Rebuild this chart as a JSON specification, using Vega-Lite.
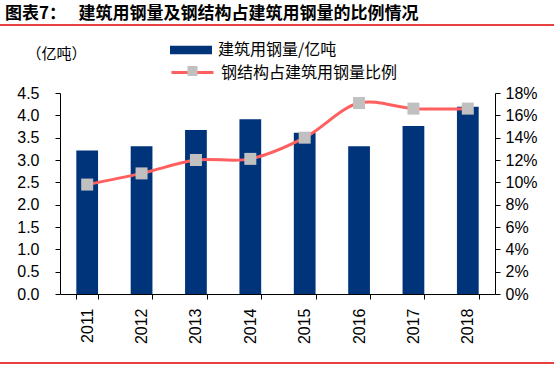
{
  "$schema": "https://vega.github.io/schema/vega-lite/v6.json",
  "width": 554,
  "height": 367,
  "padding": 0,
  "autosize": {"type": "none"},
  "background": "white",
  "config": {"view": {"stroke": null}, "font": "Liberation Sans"},
  "title": {
    "text": "图表7：\u3000\u00a0建筑用钢量及钢结构占建筑用钢量的比例情况",
    "anchor": "start",
    "frame": "group",
    "orient": "top",
    "offset": -23,
    "dx": 5,
    "font": "Noto Sans CJK SC",
    "fontSize": 17,
    "fontWeight": "bold",
    "color": "#000000"
  },
  "data": {
    "values": [
      {"year": "2011", "steel": 3.21, "ratio": 0.098},
      {"year": "2012", "steel": 3.31, "ratio": 0.108},
      {"year": "2013", "steel": 3.67, "ratio": 0.120},
      {"year": "2014", "steel": 3.91, "ratio": 0.121},
      {"year": "2015", "steel": 3.61, "ratio": 0.140},
      {"year": "2016", "steel": 3.31, "ratio": 0.171},
      {"year": "2017", "steel": 3.76, "ratio": 0.166},
      {"year": "2018", "steel": 4.19, "ratio": 0.166}
    ]
  },
  "layer": [
    {
      "mark": {"type": "bar", "color": "#00347A"},
      "encoding": {
        "x": {
          "field": "year",
          "type": "ordinal",
          "scale": {"range": [60, 495], "paddingInner": 0.6, "paddingOuter": 0.3},
          "axis": {
            "title": null,
            "orient": "bottom",
            "offset": -73,
            "labelAngle": -90,
            "labelFont": "Liberation Sans",
            "labelFontSize": 16,
            "labelColor": "#000000",
            "labelPadding": 9,
            "domainColor": "#000000",
            "tickColor": "#000000",
            "tickSize": 5,
            "tickBand": "extent"
          }
        },
        "y": {
          "field": "steel",
          "type": "quantitative",
          "scale": {"domain": [0, 4.5], "range": [294, 93]},
          "axis": {
            "orient": "left",
            "offset": -60,
            "values": [0, 0.5, 1, 1.5, 2, 2.5, 3, 3.5, 4, 4.5],
            "format": ".1f",
            "grid": false,
            "tickSize": 5,
            "tickColor": "#000000",
            "domainColor": "#000000",
            "labelFont": "Liberation Sans",
            "labelFontSize": 16,
            "labelColor": "#000000",
            "labelPadding": 16,
            "title": "（亿吨）",
            "titleAngle": 0,
            "titleX": -34,
            "titleY": 53,
            "titleAlign": "left",
            "titleBaseline": "middle",
            "titleFont": "Noto Sans CJK SC",
            "titleFontSize": 15,
            "titleFontWeight": "normal",
            "titleColor": "#000000"
          }
        },
        "fill": {
          "datum": "建筑用钢量/亿吨",
          "scale": {"range": ["#00347A"]},
          "legend": {
            "title": null,
            "orient": "none",
            "legendX": 170,
            "legendY": 29,
            "symbolType": "M-1,-0.2H1V0.2H-1Z",
            "symbolSize": 1764,
            "symbolStrokeWidth": 0,
            "symbolOpacity": 1,
            "labelOffset": 6,
            "labelLimit": 0,
            "labelFont": "Noto Sans CJK SC",
            "labelFontSize": 16,
            "labelColor": "#000000"
          }
        }
      }
    },
    {
      "layer": [
        {
          "data": {"values": [{}]},
          "mark": {"type": "rule", "color": "#E00000", "strokeWidth": 1.5},
          "encoding": {"y": {"datum": 0.2409, "type": "quantitative"}}
        },
        {
          "data": {"values": [{}]},
          "mark": {"type": "rule", "color": "#E00000", "strokeWidth": 1.5},
          "encoding": {"y": {"datum": -0.0618, "type": "quantitative"}}
        },
        {
          "mark": {"type": "line", "interpolate": "catmull-rom", "strokeWidth": 3},
          "encoding": {
            "x": {"field": "year", "type": "ordinal"},
            "y": {
              "field": "ratio",
              "type": "quantitative",
              "scale": {"domain": [0, 0.18], "range": [294, 93]},
              "axis": {
                "orient": "right",
                "offset": -59,
                "title": null,
                "values": [0, 0.02, 0.04, 0.06, 0.08, 0.1, 0.12, 0.14, 0.16, 0.18],
                "format": ".0%",
                "grid": false,
                "tickSize": 5,
                "tickColor": "#000000",
                "domainColor": "#000000",
                "labelFont": "Liberation Sans",
                "labelFontSize": 16,
                "labelColor": "#000000",
                "labelPadding": 5
              }
            },
            "stroke": {
              "datum": "钢结构占建筑用钢量比例",
              "scale": {"range": ["#FF5F5F"]},
              "legend": {
                "title": null,
                "orient": "none",
                "legendX": 170,
                "legendY": 50,
                "symbolType": "stroke",
                "symbolSize": 1764,
                "symbolStrokeWidth": 3,
                "labelOffset": 6,
                "labelLimit": 0,
                "labelFont": "Noto Sans CJK SC",
                "labelFontSize": 16,
                "labelColor": "#000000"
              }
            }
          }
        },
        {
          "mark": {"type": "point", "shape": "square", "filled": true, "size": 144, "color": "#C0C0C0", "opacity": 1},
          "encoding": {
            "x": {"field": "year", "type": "ordinal"},
            "y": {"field": "ratio", "type": "quantitative"},
            "shape": {
              "datum": "钢结构占建筑用钢量比例 ",
              "scale": {"range": ["square"]},
              "legend": {
                "title": null,
                "orient": "none",
                "legendX": 185,
                "legendY": 63.5,
                "symbolSize": 100,
                "symbolFillColor": "#C0C0C0",
                "symbolStrokeWidth": 0,
                "symbolOpacity": 1,
                "labelExpr": "''",
                "labelFontSize": 15
              }
            }
          }
        }
      ]
    }
  ],
  "resolve": {"scale": {"y": "independent"}}
}
